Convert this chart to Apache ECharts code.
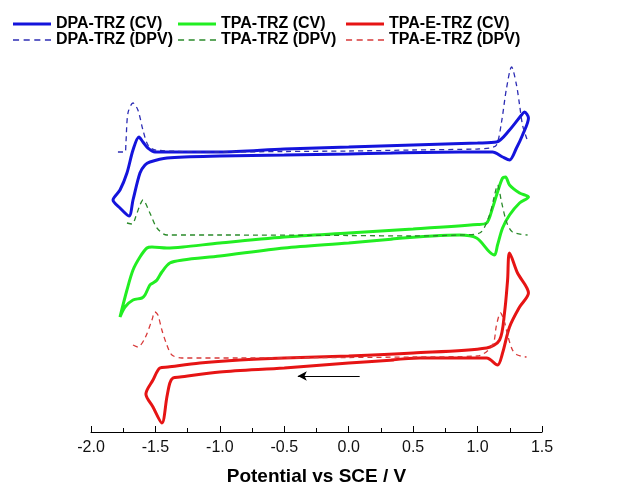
<!DOCTYPE html>
<html>
<head>
<meta charset="utf-8">
<script src="https://cdn.jsdelivr.net/npm/echarts@6/dist/echarts.min.js"></script>
<style>
  html, body { margin: 0; padding: 0; background: #fff; }
  #chart { width: 621px; height: 491px; }
</style>
</head>
<body>
<div id="chart"></div>
<script>
// potential (V vs SCE), current (a.u., curves stacked with offsets)
var dpaCv = [
  [0.35, 27.9], [0.0, 27.8], [-0.5, 27.7], [-1.0, 27.6], [-1.41, 27.4], [-1.543, 27.0],
  [-1.581, 26.7], [-1.62, 25.9], [-1.674, 23.2], [-1.705, 21.6], [-1.775, 22.4], [-1.829, 23.2],
  [-1.775, 24.2], [-1.721, 25.9], [-1.674, 28.2], [-1.628, 29.5], [-1.597, 29.0], [-1.558, 28.4],
  [-1.504, 28.0], [-1.0, 28.0], [-0.5, 28.3], [0.0, 28.5], [0.5, 28.7], [1.0, 28.9],
  [1.147, 29.0], [1.248, 30.2], [1.341, 31.7], [1.364, 32.0], [1.395, 31.4], [1.349, 29.7],
  [1.302, 28.4], [1.248, 27.2], [1.194, 27.5], [1.116, 28.0], [1.016, 28.0], [0.86, 28.0], [0.33, 27.9]
];
var dpaDpv = [
  [-1.791, 28.0], [-1.736, 28.0], [-1.729, 28.9], [-1.713, 31.9], [-1.674, 32.9], [-1.636, 32.2],
  [-1.597, 30.2], [-1.558, 28.7], [-1.504, 28.2], [-1.0, 28.0], [-0.5, 28.05], [0.0, 28.1],
  [0.5, 28.2], [1.0, 28.3], [1.093, 28.4], [1.147, 28.7], [1.186, 31.0], [1.225, 34.4],
  [1.264, 36.5], [1.302, 34.7], [1.326, 32.7], [1.349, 30.7], [1.38, 29.4], [1.395, 29.0]
];
var tpaCv = [
  [0.35, 19.3], [0.0, 18.9], [-0.5, 18.4], [-1.0, 17.6], [-1.287, 17.2], [-1.388, 16.9],
  [-1.45, 16.0], [-1.488, 15.2], [-1.519, 14.9], [-1.543, 14.7], [-1.581, 13.7], [-1.605, 13.4],
  [-1.674, 13.2], [-1.736, 12.5], [-1.775, 11.5], [-1.721, 14.2], [-1.674, 16.2], [-1.62, 17.5],
  [-1.566, 18.4], [-1.527, 18.5], [-1.411, 18.4], [-1.287, 18.5], [-1.0, 18.9], [-0.5, 19.5],
  [0.0, 19.9], [0.5, 20.3], [1.0, 20.75], [1.07, 20.9], [1.116, 22.4], [1.155, 24.0],
  [1.194, 25.4], [1.217, 25.5], [1.248, 24.7], [1.326, 23.9], [1.395, 23.5], [1.326, 22.9],
  [1.248, 21.7], [1.194, 20.4], [1.155, 18.7], [1.132, 17.7], [1.093, 18.0], [0.992, 19.4],
  [0.86, 19.7], [0.33, 19.3]
];
var tpaDpv = [
  [-1.721, 20.9], [-1.682, 20.8], [-1.643, 21.9], [-1.62, 22.7], [-1.597, 23.2], [-1.543, 21.9],
  [-1.488, 20.4], [-1.411, 19.7], [-1.0, 19.7], [0.0, 19.65], [0.5, 19.6], [0.86, 19.7],
  [1.016, 19.9], [1.093, 21.7], [1.132, 23.7], [1.155, 24.7], [1.186, 23.0], [1.225, 21.0],
  [1.271, 20.0], [1.388, 19.7]
];
var tpaeCv = [
  [0.35, 7.2], [0.0, 6.9], [-0.5, 6.4], [-1.0, 6.0], [-1.31, 5.5], [-1.364, 5.4],
  [-1.388, 4.9], [-1.411, 3.5], [-1.45, 0.9], [-1.519, 2.5], [-1.574, 3.8], [-1.519, 5.2],
  [-1.465, 6.4], [-1.403, 6.5], [-1.155, 6.9], [-0.845, 7.2], [-0.5, 7.4], [0.0, 7.6],
  [0.5, 7.9], [1.07, 8.4], [1.171, 9.2], [1.209, 11.9], [1.233, 15.2], [1.248, 17.9],
  [1.31, 15.9], [1.395, 13.9], [1.326, 12.5], [1.248, 10.5], [1.194, 7.9], [1.155, 6.7],
  [1.07, 7.4], [0.55, 7.4], [0.33, 7.2]
];
var tpaeDpv = [
  [-1.674, 8.7], [-1.636, 8.5], [-1.581, 9.4], [-1.527, 11.2], [-1.504, 12.0], [-1.481, 11.7],
  [-1.45, 10.2], [-1.411, 8.7], [-1.372, 7.7], [-1.295, 7.4], [-0.845, 7.4], [0.0, 7.45],
  [0.5, 7.5], [1.0, 7.6], [1.116, 8.7], [1.147, 10.7], [1.178, 11.9], [1.209, 11.0],
  [1.233, 9.7], [1.271, 8.2], [1.31, 7.7], [1.38, 7.5]
];
var scanArrow = [[0.085, 5.6], [-0.395, 5.6]];

var chart = echarts.init(document.getElementById('chart'));

// legend icons: solid bar for CV, four short dashes for DPV
var solidIcon = 'rect';
var dashIcon = 'path://M0,0h6v1.3h-6z M10.5,0h6v1.3h-6z M21,0h6v1.3h-6z M31.5,0h6v1.3h-6z';

function cv(name, data, color) {
  return {
    name: name, type: 'line', data: data, symbol: 'none', smooth: 0.3,
    lineStyle: { color: color, width: 3 }, itemStyle: { color: color }
  };
}
function dpv(name, data, color) {
  return {
    name: name, type: 'line', data: data, symbol: 'none', smooth: 0.3,
    lineStyle: { color: color, width: 1.3, type: [5, 4] }, itemStyle: { color: color }
  };
}
function legendCol(left, names) {
  return {
    orient: 'vertical', left: left, top: 16, padding: 0, itemGap: 0,
    itemWidth: 38, itemHeight: 3, symbolKeepAspect: true,
    data: [{ name: names[0], icon: solidIcon }, { name: names[1], icon: dashIcon }],
    textStyle: { fontFamily: 'Liberation Sans, Arial', fontWeight: 'bold', fontSize: 16, color: '#000', lineHeight: 15 }
  };
}

var series = [
  cv('DPA-TRZ (CV)', dpaCv, '#1414dc'),
  cv('TPA-TRZ (CV)', tpaCv, '#22ee22'),
  cv('TPA-E-TRZ (CV)', tpaeCv, '#e61414'),
  dpv('DPA-TRZ (DPV)', dpaDpv, '#2c2cb4'),
  dpv('TPA-TRZ (DPV)', tpaDpv, '#2a8a2a'),
  dpv('TPA-E-TRZ (DPV)', tpaeDpv, '#d83a3a')
];
series[2].markLine = {
  silent: true, symbol: ['none', 'arrow'], symbolSize: [7, 9], label: { show: false },
  lineStyle: { color: '#000', width: 1.2, type: 'solid' },
  data: [[{ coord: scanArrow[0] }, { coord: scanArrow[1] }]]
};

chart.setOption({
  animation: false,
  backgroundColor: '#fff',
  legend: [
    legendCol(13, ['DPA-TRZ (CV)', 'DPA-TRZ (DPV)']),
    legendCol(178, ['TPA-TRZ (CV)', 'TPA-TRZ (DPV)']),
    legendCol(346, ['TPA-E-TRZ (CV)', 'TPA-E-TRZ (DPV)'])
  ],
  grid: { left: 91, right: 79, top: 0, bottom: 59 },
  xAxis: {
    type: 'value', min: -2.0, max: 1.5, interval: 0.5,
    name: 'Potential vs SCE / V', nameLocation: 'middle', nameGap: 35,
    nameTextStyle: { fontFamily: 'Liberation Sans, Arial', fontWeight: 'bold', fontSize: 19, color: '#000' },
    axisLine: { lineStyle: { color: '#000', width: 1 } },
    axisTick: { inside: true, length: 6, lineStyle: { color: '#000' } },
    minorTick: { show: true, splitNumber: 2, length: 4, lineStyle: { color: '#000' } },
    splitLine: { show: false },
    axisLabel: {
      margin: 8, fontFamily: 'Liberation Sans, Arial', fontSize: 16, color: '#111',
      formatter: function (v) { return v.toFixed(1); }
    }
  },
  yAxis: { type: 'value', min: 0, max: 43.2, show: false },
  series: series
});
</script>
</body>
</html>
